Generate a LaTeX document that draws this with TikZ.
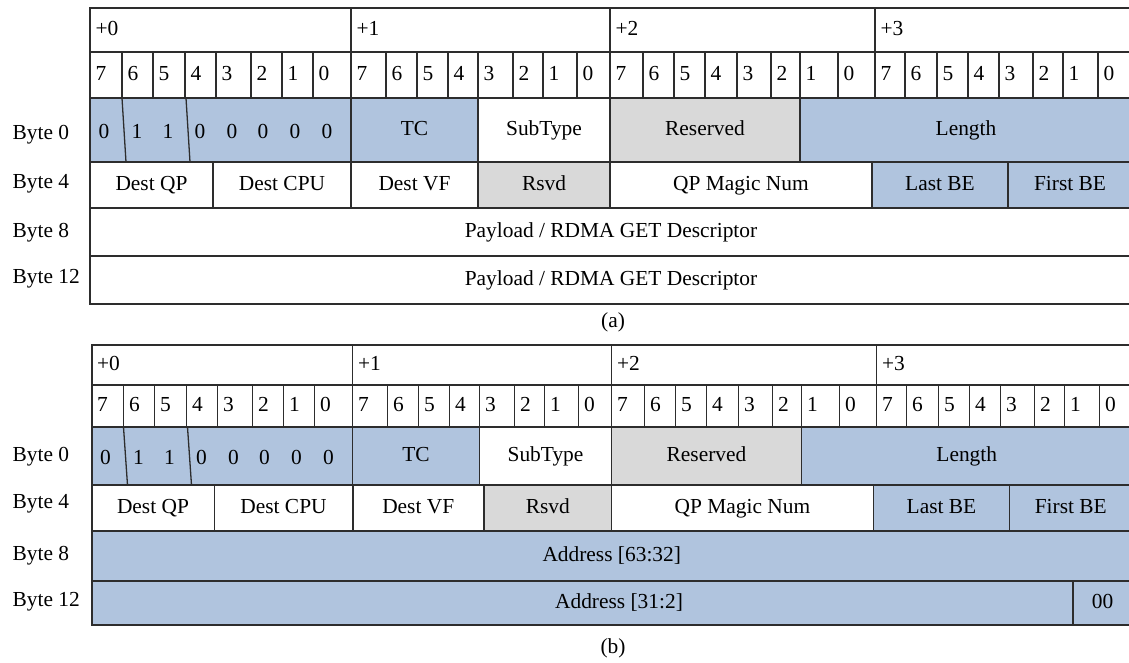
\documentclass[tikz,border=0pt]{standalone}
\usepackage{fontspec}
\setmainfont{Liberation Serif}
\usetikzlibrary{calc}

\definecolor{fieldblue}{RGB}{176,196,222}
\definecolor{fieldgrey}{RGB}{217,217,217}
\definecolor{framecol}{RGB}{45,45,45}

% one field of the packet: name, corners, box style, text
\newcommand\pktfield[7]{%
  \draw[#6] (#2,#3) rectangle (#4,#5);
  \node[lbl] (#1) at ($(#2,#3)!0.5!(#4,#5)$) {#7};}

% offsets, bit numbers, byte 0 and byte 4 of a message header
% #1 suffix, #2 x shift, #3..#7 row edges, #8 end of Dest VF
\newcommand\pkthead[8]{%
  \draw[framecol] (90+#2,#3) rectangle (1132,#4);
  \foreach \xl/\t [count=\k] in {90/0,351/1,610/2,875/3}{
    \draw[framecol] (\xl+#2,#3) -- (\xl+#2,#4);
    \node[lbl,anchor=west] (off#1\k) at (\xl+#2+5,{(#3+#4)/2}) {+\t};
  }
  \foreach \xl/\xr [count=\i from 0] in {90/122,122/153,153/185,185/216,216/251,251/282,282/313,313/351,
      351/386,386/417,417/448,448/478,478/513,513/543,543/577,577/610,
      610/643,643/674,674/705,705/737,737/771,771/800,800/838,838/875,
      875/905,905/937,937/968,968/999,999/1033,1033/1063,1063/1098,1098/1132}{
    \pgfmathtruncatemacro\b{7-mod(\i,8)}
    \draw[framecol] (\xl+#2,#4) rectangle (\xr+#2,#5);
    \node[lbl,anchor=west] (bit#1\i) at (\xl+#2+5,{(#4+#5)/2}) {\b};
  }
  % byte 0
  \draw[bluebox] (90+#2,#5) rectangle (351+#2,#6);
  \foreach \v/\xc [count=\i] in {0/104,1/137,1/168,0/200,0/232,0/263,0/295,0/327}
    \node[lbl] (val#1\i) at (\xc+#2,{(#5+#6)/2+3}) {\v};
  \draw[framecol] (122+#2,#5) -- (126+#2,#6) (186+#2,#5) -- (190+#2,#6);
  \pktfield{tc#1}{351+#2}{#5}{478+#2}{#6}{bluebox}{TC}
  \pktfield{sub#1}{478+#2}{#5}{610+#2}{#6}{plainbox}{SubType}
  \pktfield{res#1}{610+#2}{#5}{800+#2}{#6}{greybox}{Reserved}
  \pktfield{len#1}{800+#2}{#5}{1132}{#6}{bluebox}{Length}
  % byte 4
  \pktfield{dqp#1}{90+#2}{#6}{213+#2}{#7}{plainbox}{Dest QP}
  \pktfield{dcpu#1}{213+#2}{#6}{351+#2}{#7}{plainbox}{Dest CPU}
  \pktfield{dvf#1}{351+#2}{#6}{#8}{#7}{plainbox}{Dest VF}
  \pktfield{rsvd#1}{#8}{#6}{610+#2}{#7}{greybox}{Rsvd}
  \pktfield{magic#1}{610+#2}{#6}{872+#2}{#7}{plainbox}{QP Magic Num}
  \pktfield{lbe#1}{872+#2}{#6}{1008+#2}{#7}{bluebox}{Last BE}
  \pktfield{fbe#1}{1008+#2}{#6}{1132}{#7}{bluebox}{First BE}
  \draw[framecol,line width=1pt] (90+#2,#3) -- (90+#2,#7) (351+#2,#6) -- (351+#2,#7);
}

\begin{document}
\begin{tikzpicture}[x=0.5pt,y=-0.5pt,line width=0.65pt,
    lbl/.style={inner sep=0pt,text height=1.45ex,text depth=.3ex,
      font=\fontsize{10.7}{12}\selectfont},
    plainbox/.style={draw=framecol,fill=white},
    bluebox/.style={draw=framecol,fill=fieldblue},
    greybox/.style={draw=framecol,fill=fieldgrey}]
\useasboundingbox (0,0) rectangle (1129,663);

% (a) payload / RDMA GET
\pkthead{a}{0}{8}{52}{98}{162}{208}{478}
\pktfield{pay8a}{90}{208}{1132}{256}{plainbox}{Payload / RDMA GET Descriptor}
\pktfield{pay12a}{90}{256}{1132}{304}{plainbox}{Payload / RDMA GET Descriptor}
\draw[framecol,line width=1pt] (90,208) -- (90,304);
\foreach \r/\y in {0/134,4/183,8/232,12/278}
  \node[lbl,anchor=west] (bytea\r) at (12,\y) {Byte \r};
\node[lbl] (capa) at (613,322) {(a)};

% (b) RDMA address
\pkthead{b}{1.5}{345}{385}{427}{485}{531}{484}
\pktfield{addrhi}{91.5}{531}{1132}{581}{bluebox}{Address [63:32]}
\draw[bluebox] (91.5,581) rectangle (1073,625);
\node[lbl] (addrlo) at (619,603) {Address [31:2]};
\pktfield{addrlsb}{1073}{581}{1132}{625}{bluebox}{00}
\draw[framecol,line width=1pt] (91.5,531) -- (91.5,625);
\foreach \r/\y in {0/456,4/503,8/555,12/601}
  \node[lbl,anchor=west] (byteb\r) at (12,\y) {Byte \r};
\node[lbl] (capb) at (613,648) {(b)};
\end{tikzpicture}
\end{document}
